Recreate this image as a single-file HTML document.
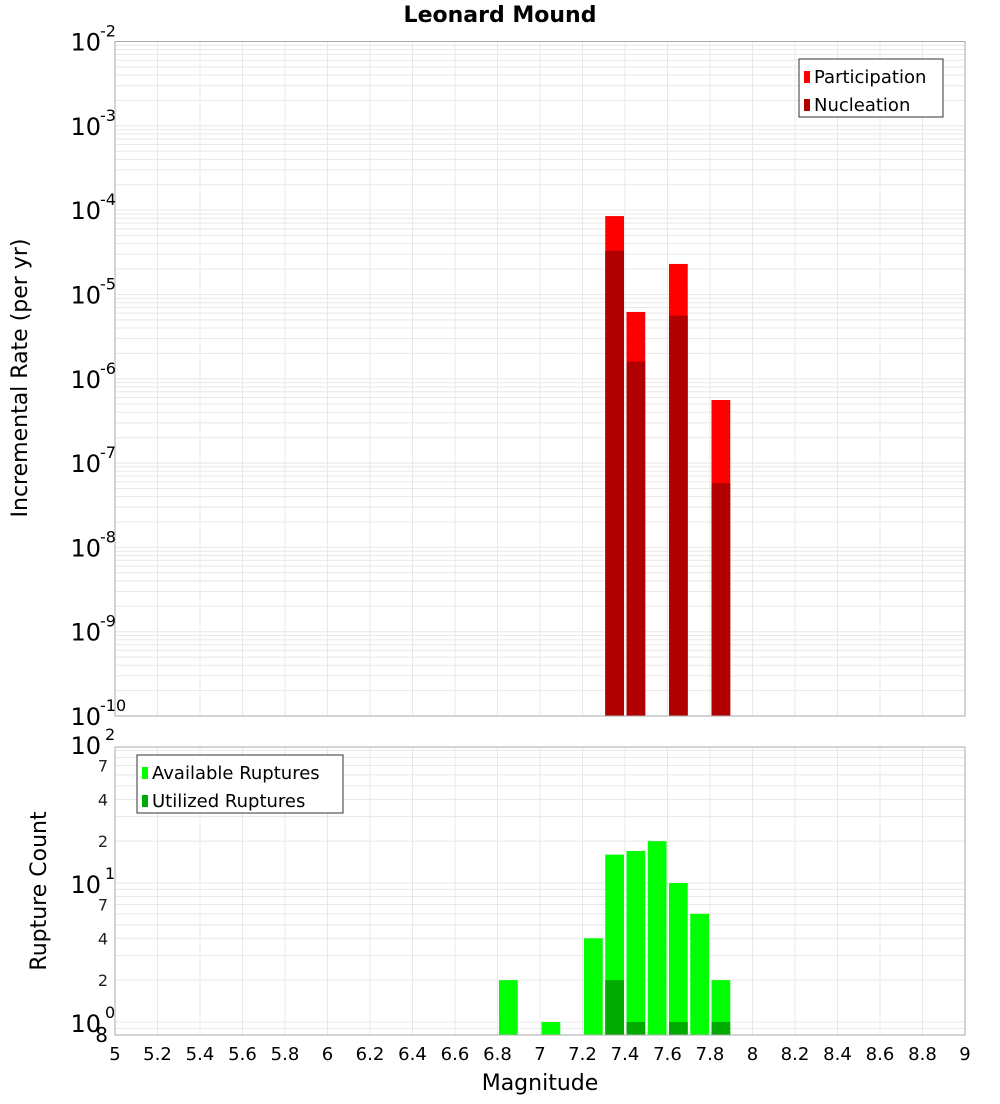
<!DOCTYPE html>
<html><head><meta charset="utf-8"><style>
body{margin:0;background:#fff;font-family:"DejaVu Sans","Liberation Sans",sans-serif}
</style></head><body>
<svg id="c" width="1000" height="1100" xmlns="http://www.w3.org/2000/svg" font-family="DejaVu Sans, Liberation Sans, sans-serif">
<text x="500" y="22" text-anchor="middle" font-size="22" font-weight="bold">Leonard Mound</text>
<g id="topPlot"></g>
<g id="botPlot"></g>
<text transform="translate(27,378) rotate(-90)" text-anchor="middle" font-size="22">Incremental Rate (per yr)</text>
<text transform="translate(46,891) rotate(-90)" text-anchor="middle" font-size="22">Rupture Count</text>
<text x="540" y="1090" text-anchor="middle" font-size="22">Magnitude</text>
</svg>
<script>
const magBins=[7.35,7.45,7.65,7.85];
const participation=[8.5e-5,6.2e-6,2.3e-5,5.6e-7];
const nucleation=[3.3e-5,1.6e-6,5.6e-6,5.8e-8];
const countBins=[6.85,7.05,7.25,7.35,7.45,7.55,7.65,7.75,7.85];
const available=[2,1,4,16,17,20,10,6,2];
const utilBins=[7.35,7.45,7.65,7.85];
const utilized=[2,1,1,1];
const xTicks=[5,5.2,5.4,5.6,5.8,6,6.2,6.4,6.6,6.8,7,7.2,7.4,7.6,7.8,8,8.2,8.4,8.6,8.8,9];
const topDecades=[-10,-9,-8,-7,-6,-5,-4,-3,-2];
const botMinor=[2,4,7];

const NS="http://www.w3.org/2000/svg";
const L=115,R=965;
const X=m=>L+(m-5)/4*(R-L);
const T0=41.5,T1=716;
const YT=v=>T1-(Math.log10(v)+10)/8*(T1-T0);
const B0=747,B1=1035;
const YB=v=>1022-Math.log10(v)*139;
function mk(p,tag,a,txt){const e=document.createElementNS(NS,tag);for(const k in a)e.setAttribute(k,a[k]);if(txt!=null)e.textContent=txt;p.appendChild(e);return e;}
const gTop=document.getElementById('topPlot'),gBot=document.getElementById('botPlot');
function vgrid(g,y0,y1){xTicks.forEach(t=>{const l=mk(g,'line',{x1:X(t),x2:X(t),y1:y0,y2:y1,stroke:'#e8e8e8'});

});}
vgrid(gTop,T0,T1);vgrid(gBot,B0,B1);
for(let d=-10;d<-2;d++)for(let k=1;k<10;k++){const y=YT(k*Math.pow(10,d));const l=mk(gTop,'line',{x1:L,x2:R,y1:y,y2:y,stroke:'#e8e8e8'});

}
for(let d=-1;d<2;d++)for(let k=1;k<10;k++){const v=k*Math.pow(10,d);const y=YB(v);if(y<B0||y>B1)continue;const l=mk(gBot,'line',{x1:L,x2:R,y1:y,y2:y,stroke:'#e8e8e8'});

}
function bar(g,m,v,ys,base,col,name){const x0=X(m-0.05)+1.5,x1=X(m+0.05)-1;const y=ys(v);const r=mk(g,'rect',{x:x0,y:y,width:x1-x0,height:base-y,fill:col});

}
magBins.forEach((m,i)=>bar(gTop,m,participation[i],YT,T1,'#ff0000','participation-bar'));
magBins.forEach((m,i)=>bar(gTop,m,nucleation[i],YT,T1,'#b00000','nucleation-bar'));
countBins.forEach((m,i)=>bar(gBot,m,available[i],YB,B1,'#00ff00','available-bar'));
utilBins.forEach((m,i)=>bar(gBot,m,utilized[i],YB,B1,'#00aa00','utilized-bar'));
mk(gTop,'rect',{x:L,y:T0,width:R-L,height:T1-T0,fill:'none',stroke:'#aaa'});
mk(gBot,'rect',{x:L,y:B0,width:R-L,height:B1-B0,fill:'none',stroke:'#aaa'});
topDecades.forEach(d=>{const y=YT(Math.pow(10,d));const t=mk(gTop,'text',{x:101,y:y+9,'text-anchor':'end','font-size':24});


t.textContent='10';mk(gTop,'text',{x:100,y:y-5,'font-size':16},String(d));});
[[100,'2'],[10,'1'],[1,'0']].forEach(([v,e])=>{const y=YB(v);const t=mk(gBot,'text',{x:101,y:y+10,'text-anchor':'end','font-size':24});


t.textContent='10';mk(gBot,'text',{x:105,y:y-4,'font-size':16},e);});
[1,10].forEach(d=>botMinor.forEach(k=>{const y=YB(k*d);if(y<B0)return;const t=mk(gBot,'text',{x:108,y:y+6,'text-anchor':'end','font-size':16,fill:'#222'},String(k));

}));
mk(gBot,'text',{x:108,y:1042,'text-anchor':'end','font-size':20},'8');
xTicks.forEach(t=>{const e=mk(gBot,'text',{x:X(t),y:1060,'text-anchor':'middle','font-size':18},String(t));

});
function legend(g,x,y,w,items,name){const lg=mk(g,'g',{});


mk(lg,'rect',{x:x,y:y,width:w,height:58,fill:'#fff',stroke:'#333'});
items.forEach(([c,s],i)=>{mk(lg,'rect',{x:x+5,y:y+12+i*28,width:6,height:12,fill:c});const t=mk(lg,'text',{x:x+15,y:y+24+i*28,'font-size':18},s);

});}
legend(gTop,799,59,144,[['#ff0000','Participation'],['#b00000','Nucleation']],'rate-legend');
legend(gBot,137,755,206,[['#00ff00','Available Ruptures'],['#00aa00','Utilized Ruptures']],'count-legend');
</script>
</body></html>
